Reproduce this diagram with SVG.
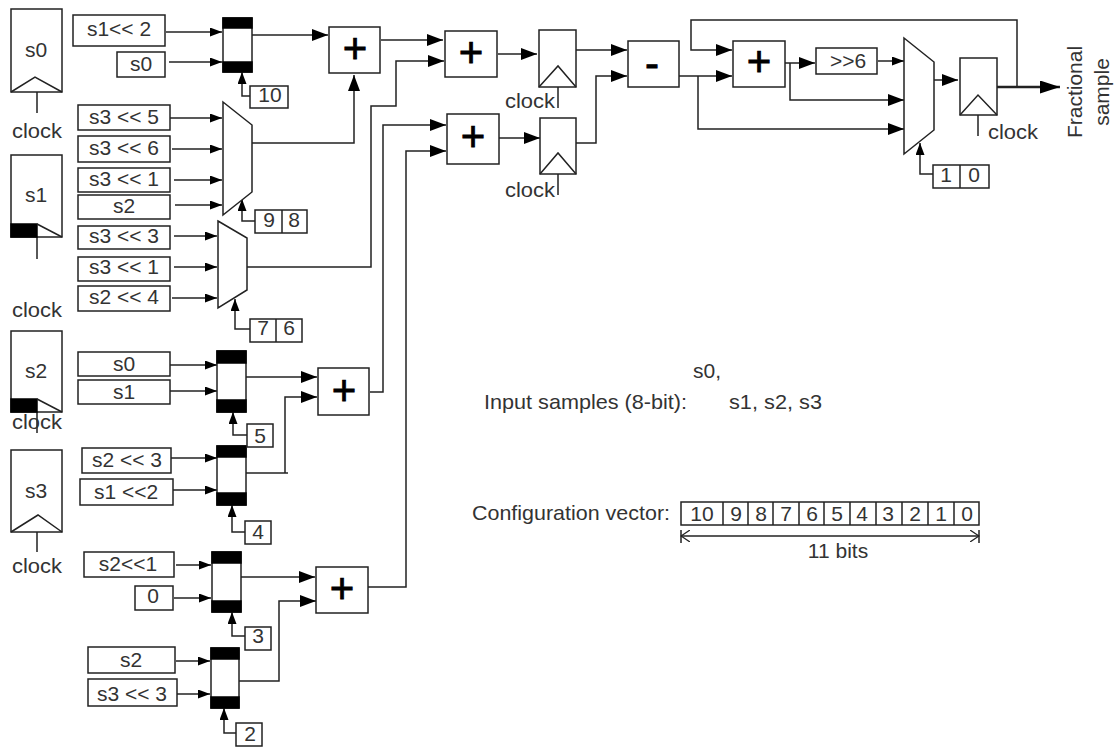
<svg xmlns="http://www.w3.org/2000/svg" width="1114" height="747" viewBox="0 0 1114 747">
<style>
rect,polygon,polyline{fill:#fff;stroke:#222;stroke-width:1.5}
.b{fill:#000;stroke:#000}
.l{fill:none;stroke:#222;stroke-width:1.5}
.a{marker-end:url(#m)}
.A{marker-end:url(#M)}
text{font-family:"Liberation Sans",Arial,sans-serif;font-size:21px;fill:#333;text-anchor:middle}
.s{text-anchor:start}
.p{font-size:42px;fill:#000;stroke:#000;stroke-width:.8}
</style>
<defs>
<marker id="m" markerUnits="userSpaceOnUse" markerWidth="14" markerHeight="10" refX="12" refY="4.5" orient="auto"><path d="M0 0L12 4.5L0 9Z" fill="#000"/></marker>
<marker id="M" markerUnits="userSpaceOnUse" markerWidth="18" markerHeight="13" refX="16" refY="6" orient="auto"><path d="M0 0L16 6L0 12Z" fill="#000"/></marker>
<marker id="X" markerUnits="userSpaceOnUse" markerWidth="21" markerHeight="14" refX="20" refY="6.5" orient="auto"><path d="M0 0L20 6.5L0 13Z" fill="#000"/></marker>
<marker id="o" markerUnits="userSpaceOnUse" markerWidth="10" markerHeight="12" refX="9" refY="6" orient="auto-start-reverse"><path d="M0 0L9 6L0 12" fill="none" stroke="#222" stroke-width="1.3"/></marker>
</defs>
<rect width="1114" height="747" style="fill:#fff;stroke:none"/>

<g id="connectors">
<path class="l a" d="M166 32H222"/><path class="l a" d="M169 62H222"/>
<path class="l A" d="M252 35H328"/><path class="l a" d="M250 96H242V72"/>
<path class="l a" d="M170 118H222"/><path class="l a" d="M172 149H222"/><path class="l a" d="M174 180H222"/><path class="l a" d="M175 205H222"/>
<path class="l A" d="M252 143H354V75"/><path class="l a" d="M255 221H242V199"/>
<path class="l a" d="M174 236H217"/><path class="l a" d="M174 267H217"/><path class="l a" d="M172 298H217"/>
<path class="l A" d="M247 267H371V106H396V61H444"/><path class="l a" d="M250 329H235V299"/>
<path class="l A" d="M381 40H443"/><path class="l A" d="M498 54H537"/><path class="l A" d="M576 50H627"/>
<path class="l A" d="M370 392H383V125H446"/>
<path class="l A" d="M368 587H406V151H446"/>
<path class="l A" d="M499 138H540"/><path class="l A" d="M576 143H596V76H627"/>
<path class="l A" d="M679 76H732"/><path class="l A" d="M698 76V129H904"/>
<path class="l A" d="M1017 87V20H691V50H732"/>
<path class="l A" d="M785 63H815"/><path class="l A" d="M790 63V100H904"/><path class="l a" d="M878 61H904"/>
<path class="l A" d="M934 80H958"/><path class="l a" d="M933 174H920V143"/>
<path d="M997 87H1060" fill="none" stroke="#222" stroke-width="2.5" marker-end="url(#X)"/>
<path class="l a" d="M170 365H217"/><path class="l a" d="M170 391H217"/><path class="l A" d="M246 377H317"/><path class="l a" d="M247 435H233V412"/>
<path class="l a" d="M171 458H217"/><path class="l a" d="M173 490H217"/><path class="l" d="M246 473H288"/><path class="l A" d="M285 473V397H317"/><path class="l a" d="M245 532H232V505"/>
<path class="l a" d="M176 565H211"/><path class="l a" d="M174 598H211"/><path class="l A" d="M240 577H315"/><path class="l a" d="M245 636H232V612"/>
<path class="l a" d="M176 661H210"/><path class="l a" d="M177 694H210"/><path class="l A" d="M238 681H279V601H316"/><path class="l a" d="M236 733H224V708"/>
<path class="l" d="M37 92V113M37 237V259M37 412V433M37 532V552M558 87V108M558 174V195M978 115V136"/>
<path class="l" d="M681 536H979" marker-start="url(#o)" marker-end="url(#o)"/><path class="l" d="M681 530V543M979 530V543"/>
</g>

<g id="s0"><rect x="11" y="9" width="51" height="83"/><polyline class="l" points="11,92 35,77 62,92"/><text x="36" y="57">s0</text><text x="37" y="138" textLength="50" lengthAdjust="spacingAndGlyphs">clock</text></g>
<g id="s1"><rect x="11" y="155" width="51" height="82"/><rect class="b" x="11" y="224" width="26" height="13"/><polyline class="l" points="37,224 62,237"/><text x="36" y="202">s1</text><text x="37" y="317" textLength="50" lengthAdjust="spacingAndGlyphs">clock</text></g>
<g id="s2"><rect x="11" y="331" width="51" height="81"/><rect class="b" x="11" y="399" width="26" height="13"/><polyline class="l" points="37,399 62,412"/><text x="36" y="378">s2</text><text x="37" y="429" textLength="50" lengthAdjust="spacingAndGlyphs">clock</text></g>
<g id="s3"><rect x="11" y="450" width="51" height="82"/><polyline class="l" points="11,532 38,515 62,532"/><text x="36" y="498">s3</text><text x="37" y="573" textLength="50" lengthAdjust="spacingAndGlyphs">clock</text></g>

<g id="in1"><rect x="73" y="15" width="92" height="31"/><text x="119" y="36">s1&lt;&lt; 2</text></g>
<g id="in2"><rect x="117" y="52" width="48" height="25"/><text x="141" y="71">s0</text></g>
<g id="in3"><rect x="78" y="105" width="92" height="25"/><text x="124" y="124">s3 &lt;&lt; 5</text></g>
<g id="in4"><rect x="78" y="136" width="92" height="26"/><text x="124" y="155">s3 &lt;&lt; 6</text></g>
<g id="in5"><rect x="78" y="168" width="92" height="24"/><text x="124" y="186">s3 &lt;&lt; 1</text></g>
<g id="in6"><rect x="78" y="195" width="92" height="24"/><text x="124" y="213">s2</text></g>
<g id="in7"><rect x="78" y="226" width="92" height="23"/><text x="124" y="243">s3 &lt;&lt; 3</text></g>
<g id="in8"><rect x="78" y="257" width="92" height="24"/><text x="124" y="274">s3 &lt;&lt; 1</text></g>
<g id="in9"><rect x="78" y="286" width="92" height="25"/><text x="124" y="304">s2 &lt;&lt; 4</text></g>
<g id="in10"><rect x="78" y="352" width="92" height="24"/><text x="124" y="371">s0</text></g>
<g id="in11"><rect x="78" y="380" width="92" height="24"/><text x="124" y="399">s1</text></g>
<g id="in12"><rect x="82" y="448" width="89" height="25"/><text x="127" y="467">s2 &lt;&lt; 3</text></g>
<g id="in13"><rect x="80" y="479" width="93" height="26"/><text x="126" y="499">s1 &lt;&lt;2</text></g>
<g id="in14"><rect x="84" y="552" width="90" height="25"/><text x="128" y="571">s2&lt;&lt;1</text></g>
<g id="in15"><rect x="135" y="586" width="38" height="24"/><text x="153" y="603">0</text></g>
<g id="in16"><rect x="88" y="647" width="87" height="26"/><text x="131" y="667">s2</text></g>
<g id="in17"><rect x="88" y="679" width="89" height="27"/><text x="132" y="701">s3 &lt;&lt; 3</text></g>

<g id="mux1"><rect x="223" y="18" width="29" height="54"/><rect class="b" x="223" y="18" width="29" height="10"/><rect class="b" x="223" y="62" width="29" height="10"/></g>
<g id="mux2"><polygon points="223,102 252,125 252,192 223,215"/></g>
<g id="mux3"><polygon points="218,221 247,238 247,290 218,308"/></g>
<g id="mux4"><rect x="217" y="351" width="29" height="61"/><rect class="b" x="217" y="351" width="29" height="12"/><rect class="b" x="217" y="400" width="29" height="12"/></g>
<g id="mux5"><rect x="217" y="446" width="29" height="59"/><rect class="b" x="217" y="446" width="29" height="11"/><rect class="b" x="217" y="493" width="29" height="12"/></g>
<g id="mux6"><rect x="212" y="552" width="29" height="60"/><rect class="b" x="212" y="552" width="29" height="11"/><rect class="b" x="212" y="601" width="29" height="11"/></g>
<g id="mux7"><rect x="211" y="648" width="28" height="60"/><rect class="b" x="211" y="648" width="28" height="11"/><rect class="b" x="211" y="697" width="28" height="11"/></g>
<g id="mux8"><polygon points="904,38 934,62 934,130 904,154"/></g>

<g id="sel10"><rect x="250" y="86" width="38" height="22"/><text x="270" y="102">10</text></g>
<g id="sel98"><rect x="255" y="210" width="52" height="23"/><path class="l" d="M282 210V233"/><text x="269" y="227">9</text><text x="294" y="227">8</text></g>
<g id="sel76"><rect x="250" y="319" width="52" height="23"/><path class="l" d="M276 319V342"/><text x="263" y="335">7</text><text x="289" y="335">6</text></g>
<g id="sel5"><rect x="247" y="424" width="26" height="23"/><text x="260" y="443">5</text></g>
<g id="sel4"><rect x="245" y="521" width="26" height="23"/><text x="258" y="539">4</text></g>
<g id="sel3"><rect x="245" y="627" width="26" height="23"/><text x="258" y="643">3</text></g>
<g id="sel2"><rect x="236" y="723" width="26" height="23"/><text x="250" y="741">2</text></g>
<g id="sel10b"><rect x="933" y="165" width="56" height="23"/><path class="l" d="M960 165V188"/><text x="946" y="182">1</text><text x="974" y="182">0</text></g>

<g id="add1"><rect x="329" y="27" width="51" height="46"/><text class="p" x="355" y="63">+</text></g>
<g id="add2"><rect x="445" y="31" width="52" height="46"/><text class="p" x="471" y="67">+</text></g>
<g id="add3"><rect x="447" y="114" width="52" height="50"/><text class="p" x="473" y="151">+</text></g>
<g id="add4"><rect x="318" y="368" width="51" height="47"/><text class="p" x="344" y="405">+</text></g>
<g id="add5"><rect x="316" y="567" width="52" height="46"/><text class="p" x="342" y="603">+</text></g>
<g id="sub"><rect x="628" y="41" width="51" height="46"/><text class="p" x="652" y="78">-</text></g>
<g id="add6"><rect x="733" y="41" width="52" height="46"/><text class="p" x="759" y="76">+</text></g>
<g id="shift"><rect x="816" y="48" width="61" height="26"/><text x="848" y="68">&gt;&gt;6</text></g>

<g id="reg1"><rect x="539" y="30" width="37" height="57"/><polyline class="l" points="539,87 558,66 576,87"/><text x="530" y="108" textLength="50" lengthAdjust="spacingAndGlyphs">clock</text></g>
<g id="reg2"><rect x="540" y="118" width="36" height="56"/><polyline class="l" points="540,174 558,153 576,174"/><text x="530" y="197" textLength="50" lengthAdjust="spacingAndGlyphs">clock</text></g>
<g id="reg3"><rect x="960" y="58" width="37" height="57"/><polyline class="l" points="960,115 978,95 997,115"/><text x="1013" y="139" textLength="50" lengthAdjust="spacingAndGlyphs">clock</text></g>

<g id="output"><text transform="translate(1082 92) rotate(-90)">Fractional</text><text transform="translate(1109 92) rotate(-90)">sample</text></g>
<g id="legend1"><text class="s" x="693" y="378">s0,</text><text class="s" x="484" y="409" textLength="203" lengthAdjust="spacingAndGlyphs">Input samples (8-bit):</text><text class="s" x="729" y="409" textLength="93" lengthAdjust="spacingAndGlyphs">s1, s2, s3</text></g>
<g id="legend2"><text class="s" x="472" y="520" textLength="198" lengthAdjust="spacingAndGlyphs">Configuration vector:</text>
<rect x="681" y="502" width="298" height="23"/><path class="l" d="M723 502V525M748 502V525M773 502V525M799 502V525M824 502V525M850 502V525M876 502V525M902 502V525M928 502V525M954 502V525"/>
<text x="702" y="521">10</text><text x="736" y="521">9</text><text x="761" y="521">8</text><text x="786" y="521">7</text><text x="812" y="521">6</text><text x="837" y="521">5</text><text x="862" y="521">4</text><text x="888" y="521">3</text><text x="915" y="521">2</text><text x="941" y="521">1</text><text x="967" y="521">0</text>
<text x="838" y="558">11 bits</text></g>
</svg>
